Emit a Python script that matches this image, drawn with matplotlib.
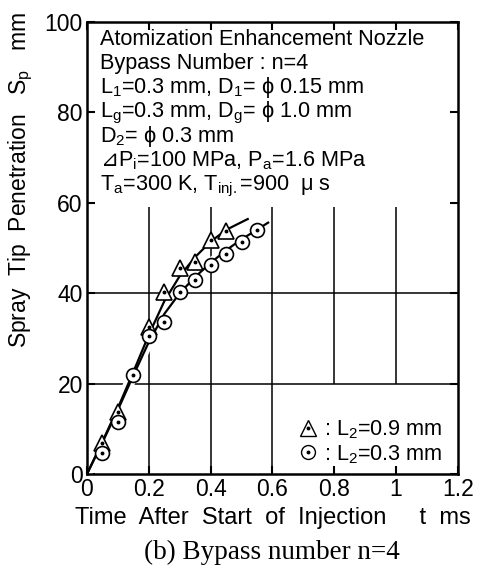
import matplotlib
matplotlib.use("Agg")
import matplotlib.pyplot as plt
from matplotlib.lines import Line2D
from matplotlib.legend_handler import HandlerTuple

plt.rcParams["font.family"] = ["Liberation Sans", "DejaVu Sans"]
plt.rcParams["mathtext.fontset"] = "custom"
plt.rcParams["mathtext.rm"] = "Liberation Sans"
plt.rcParams["mathtext.it"] = "Liberation Sans:italic"

# measured points, L2 = 0.9 mm (triangles)
t_tri = [0.05, 0.10, 0.20, 0.25, 0.30, 0.35, 0.40, 0.45]
sp_tri = [6.8, 13.8, 32.6, 40.3, 45.5, 47.0, 51.8, 53.8]

# measured points, L2 = 0.3 mm (circles)
t_cir = [0.05, 0.10, 0.15, 0.20, 0.25, 0.30, 0.35, 0.40, 0.45, 0.50, 0.55]
sp_cir = [4.6, 11.6, 22.0, 30.5, 33.7, 40.3, 42.9, 46.2, 48.7, 51.4, 54.0]

# fitted curves
fit_tri_t = [0.0, 0.05, 0.10, 0.15, 0.20, 0.25, 0.30, 0.35, 0.40, 0.45, 0.52]
fit_tri_s = [0.0, 7.2, 14.6, 22.6, 30.8, 38.2, 43.8, 48.0, 51.4, 54.0, 56.4]
fit_cir_t = [0.0, 0.05, 0.10, 0.15, 0.20, 0.25, 0.30, 0.35, 0.40, 0.45, 0.50, 0.586]
fit_cir_s = [0.0, 7.0, 14.2, 21.8, 29.2, 35.4, 40.0, 43.6, 46.7, 49.5, 51.9, 55.6]

xticks = [0, 0.2, 0.4, 0.6, 0.8, 1, 1.2]
xticklabels = ["0", "0.2", "0.4", "0.6", "0.8", "1", "1.2"]
yticks = [0, 20, 40, 60, 80, 100]

info_lines = [
    "Atomization Enhancement Nozzle",
    "Bypass Number : n=4",
    r"L$_\mathrm{1}$=0.3 mm, D$_\mathrm{1}$= ϕ 0.15 mm",
    r"L$_\mathrm{g}$=0.3 mm, D$_\mathrm{g}$= ϕ 1.0 mm",
    r"D$_\mathrm{2}$= ϕ 0.3 mm",
    r"P$_\mathrm{i}$=100 MPa, P$_\mathrm{a}$=1.6 MPa",
    r"T$_\mathrm{a}$=300 K, T$_\mathrm{inj.}$=900  μ s",
]
delta_line = 5  # this line starts with the ⊿ sign

fig = plt.figure(figsize=(4.78, 5.77), dpi=100)
ax = fig.add_axes([0.182, 0.1785, 0.776, 0.7835])

# partial grid, interrupted by the text blocks
ax.vlines([0.2, 0.4, 0.6], 0, 59, color="black", lw=1.1, zorder=1)
ax.vlines([0.8, 1.0], 20, 59, color="black", lw=1.1, zorder=1)
ax.hlines([20, 40], 0, 1.2, color="black", lw=1.1, zorder=1)

# fitted curves with a white halo to cut the grid
for ft, fs in [(fit_tri_t, fit_tri_s), (fit_cir_t, fit_cir_s)]:
    ax.plot(ft, fs, color="white", lw=7, zorder=2, solid_capstyle="butt")
for ft, fs in [(fit_tri_t, fit_tri_s), (fit_cir_t, fit_cir_s)]:
    ax.plot(ft, fs, color="black", lw=1.6, zorder=3)

ms_tri, ms_cir = 11, 10
ax.plot(t_tri, sp_tri, ls="none", marker="^", ms=ms_tri, mfc="white", mec="black",
        mew=1.2, zorder=4)
ax.plot(t_tri, sp_tri, ls="none", marker="o", ms=1.8, color="black", zorder=5)
ax.plot(t_cir, sp_cir, ls="none", marker="o", ms=ms_cir, mfc="white", mec="black",
        mew=1.2, zorder=4)
ax.plot(t_cir, sp_cir, ls="none", marker="o", ms=1.8, color="black", zorder=5)

# info text block
fs_info = 15.6
for i, line in enumerate(info_lines):
    y = 95.0 - i * 5.37
    if i == delta_line:
        d = ax.text(0.042, y, "⊿", fontsize=fs_info, va="baseline", ha="left",
                    family="DejaVu Sans", zorder=6)
        ax.annotate(line, xy=(1, y), xycoords=(d, "data"), fontsize=fs_info,
                    va="baseline", ha="left", zorder=6)
    else:
        ax.text(0.042, y, line, fontsize=fs_info, va="baseline", ha="left", zorder=6)

tri_h = (Line2D([], [], ls="none", marker="^", ms=ms_tri, mfc="white", mec="black", mew=1.0),
         Line2D([], [], ls="none", marker="o", ms=1.8, color="black"))
cir_h = (Line2D([], [], ls="none", marker="o", ms=ms_cir, mfc="white", mec="black", mew=1.0),
         Line2D([], [], ls="none", marker="o", ms=1.8, color="black"))
ax.legend([tri_h, cir_h], [r": L$_\mathrm{2}$=0.9 mm", r": L$_\mathrm{2}$=0.3 mm"],
          handler_map={tuple: HandlerTuple(ndivide=1, pad=0)},
          loc="lower right", bbox_to_anchor=(1.0, -0.015), frameon=False,
          fontsize=fs_info, handlelength=0.9, handletextpad=0.3, labelspacing=0.1,
          borderpad=0.2)

ax.set_xlim(0, 1.2)
ax.set_ylim(0, 100)
ax.set_xticks(xticks)
ax.set_xticklabels(xticklabels)
ax.set_yticks(yticks)
ax.tick_params(direction="in", length=6, width=1.5, labelsize=16.5,
               top=True, right=True, pad=3)
for s in ax.spines.values():
    s.set_linewidth(1.8)

ax.set_xlabel("Time  After  Start  of  Injection     t  ms", fontsize=17, labelpad=4)
ax.set_ylabel(r"Spray  Tip  Penetration   S$_\mathrm{p}$   mm", fontsize=16.5)
ax.yaxis.set_label_coords(-0.14, 0.65)

fig.text(0.569, 0.042, "(b) Bypass number n=4", fontsize=19.5, ha="center",
         va="center", family="Liberation Serif")

fig.savefig("out.png", dpi=100)
